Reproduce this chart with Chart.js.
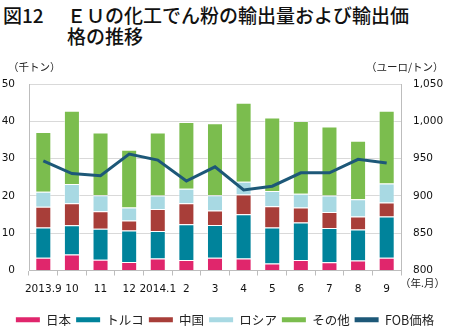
<!DOCTYPE html>
<html>
<head>
<meta charset="utf-8">
<script src="https://cdn.jsdelivr.net/npm/chart.js@4"></script>
<style>
  html, body { margin: 0; padding: 0; background: #fff; }
  #wrap { position: relative; width: 450px; height: 331px; }
  #chart { position: absolute; left: 0; top: 0; }
  .ttl { position: absolute; font-family: "Noto Sans CJK JP", sans-serif; font-size: 19px; line-height: 21px; font-weight: 500; color: #111; white-space: nowrap; }
</style>
</head>
<body>
<div id="wrap">
  <div class="ttl" style="left:3px; top:4px;">図12</div>
  <div class="ttl" style="left:67px; top:4px;">ＥＵの化工でん粉の輸出量および輸出価<br>格の推移</div>
  <canvas id="chart" width="450" height="331"></canvas>
</div>
<script>
// 月別ラベルと国別輸出量（千トン）、FOB価格（ユーロ/トン）
const months = ['2013.9', '10', '11', '12', '2014.1', '2', '3', '4', '5', '6', '7', '8', '9'];
const japan  = [3.4, 4.3, 2.9, 2.3, 3.2, 2.8, 3.4, 3.2, 1.9, 2.8, 2.2, 2.7, 3.4];
const turkey = [8.1, 7.8, 8.3, 8.4, 7.4, 9.6, 8.8, 11.9, 9.6, 10.1, 9.2, 8.3, 11.1];
const china  = [5.6, 5.9, 4.7, 2.7, 5.9, 5.6, 3.9, 5.3, 5.7, 4.0, 4.3, 3.5, 3.7];
const russia = [4.0, 5.2, 4.3, 3.5, 3.6, 3.9, 4.1, 3.4, 4.1, 3.7, 4.4, 4.6, 5.1];
const others = [16.0, 19.6, 16.8, 15.5, 16.9, 17.9, 19.3, 21.2, 19.7, 19.5, 18.5, 15.7, 19.5];
const fobPrice = [947, 930, 927, 956, 948, 920, 939, 908, 913, 931, 931, 949, 944];

const volTicks = [0, 10, 20, 30, 40, 50];
const priceTicks = [800, 850, 900, 950, 1000, 1050];

const tickFont = { family: 'DejaVu Sans', size: 10.5 };
const edge = 'rgba(255,255,255,0.45)';

function barSet(label, data, color) {
  return {
    type: 'bar', label, data, yAxisID: 'y', order: 1,
    backgroundColor: color, borderColor: edge, borderWidth: 1,
    barPercentage: 0.56, categoryPercentage: 1.0
  };
}

// 単位ラベル
const unitLabels = {
  id: 'unitLabels',
  afterDraw(chart) {
    const ctx = chart.ctx;
    ctx.save();
    ctx.fillStyle = '#222';
    ctx.font = '10.5px "Noto Sans CJK JP"';
    ctx.textBaseline = 'middle';
    ctx.textAlign = 'left';
    ctx.fillText('（千トン）', 8, 67);
    ctx.fillText('（ユーロ/トン）', 366, 67);
    ctx.fillText('（年.月）', 400, 283);
    ctx.restore();
  }
};

new Chart(document.getElementById('chart'), {
  data: {
    labels: months,
    datasets: [
      {
        type: 'line', label: 'FOB価格', data: fobPrice, yAxisID: 'y2', order: 0,
        borderColor: '#1d5878', backgroundColor: '#1d5878', borderWidth: 3,
        pointRadius: 0, tension: 0
      },
      barSet('日本', japan, '#e0266c'),
      barSet('トルコ', turkey, '#00839b'),
      barSet('中国', china, '#a83e39'),
      barSet('ロシア', russia, '#a8d9e3'),
      barSet('その他', others, '#7bbd4e')
    ]
  },
  plugins: [unitLabels],
  options: {
    responsive: false,
    animation: false,
    layout: { padding: { top: 84, left: 0, right: 0, bottom: -5 } },
    plugins: {
      tooltip: { enabled: false },
      legend: {
        position: 'bottom',
        labels: {
          font: { family: 'Noto Sans CJK JP', size: 12.5 },
          color: '#222',
          boxWidth: 24, boxHeight: 5, padding: 5,
          generateLabels(chart) {
            const order = [1, 2, 3, 4, 5, 0];
            return order.map(i => {
              const ds = chart.data.datasets[i];
              return {
                text: ds.label, datasetIndex: i,
                fillStyle: ds.type === 'line' ? ds.borderColor : ds.backgroundColor,
                strokeStyle: 'transparent', lineWidth: 0, fontColor: '#222'
              };
            });
          }
        }
      }
    },
    scales: {
      x: {
        stacked: true,
        grid: { offset: true, drawOnChartArea: false, drawTicks: true, tickLength: 5, color: '#bdbdbd' },
        border: { color: '#bdbdbd' },
        ticks: { font: tickFont, color: '#111', padding: 7, maxRotation: 0, autoSkip: false },
        afterFit(s) { s.height = 38; }
      },
      y: {
        stacked: true, position: 'left', min: 0, max: 50,
        afterBuildTicks(s) { s.ticks = volTicks.map(v => ({ value: v })); },
        grid: { color: '#d9d9d9', drawTicks: false },
        border: { color: '#bdbdbd' },
        ticks: { font: tickFont, color: '#111', padding: 14 },
        afterFit(s) { s.width = 29; }
      },
      y2: {
        position: 'right', min: 800, max: 1050,
        afterBuildTicks(s) { s.ticks = priceTicks.map(v => ({ value: v })); },
        grid: { drawOnChartArea: false, drawTicks: false },
        border: { color: '#bdbdbd' },
        ticks: { font: tickFont, color: '#111', padding: 12, callback: v => v.toLocaleString('en-US') },
        afterFit(s) { s.width = 49; }
      }
    }
  }
});
</script>
</body>
</html>
